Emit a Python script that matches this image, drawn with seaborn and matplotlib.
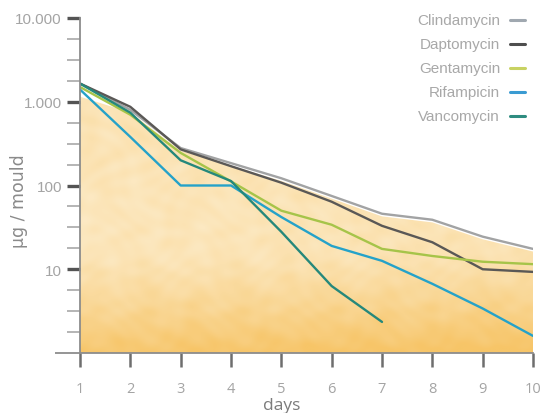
import numpy as np
import pandas as pd
import seaborn as sns
import matplotlib.pyplot as plt
from matplotlib.patches import Polygon
from matplotlib.lines import Line2D

# Antibiotic release from bone-cement moulds (µg per mould) over 10 days
days = [1, 2, 3, 4, 5, 6, 7, 8, 9, 10]
clindamycin = [1650, 800, 280, 185, 122, 75, 46, 39, 24.5, 17.5]
daptomycin = [1650, 870, 270, 170, 108, 64, 33, 21, 10, 9.3]
gentamycin = [1500, 700, 245, 112, 50, 34, 17.5, 14.4, 12.3, 11.5]
rifampicin = [1400, 380, 100, 100, 42, 19, 12.6, 6.7, 3.4, 1.6]
vancomycin_days = [1, 2, 3, 4, 5, 6, 7]
vancomycin = [1650, 740, 200, 113, 28, 6.3, 2.35]

drugs = ["Clindamycin", "Daptomycin", "Gentamycin", "Rifampicin", "Vancomycin"]
colors = ["#a2a3a4", "#5a5856", "#a6c449", "#25a2c9", "#25887b"]
legend_colors = ["#a0a8b0", "#4e4e4e", "#c8d262", "#3a9bd2", "#2e8c80"]

y_ticks = [10, 100, 1000, 10000]
y_ticklabels = ["10", "100", "1.000", "10.000"]

frames = []
for name, xs, ys in [("Clindamycin", days, clindamycin),
                     ("Daptomycin", days, daptomycin),
                     ("Gentamycin", days, gentamycin),
                     ("Rifampicin", days, rifampicin),
                     ("Vancomycin", vancomycin_days, vancomycin)]:
    frames.append(pd.DataFrame({"day": xs, "amount": ys, "drug": name}))
df = pd.concat(frames, ignore_index=True)

sns.set_theme(style="white")
plt.rcParams["font.family"] = ["Liberation Sans", "DejaVu Sans"]

W, H = 540, 414
fig = plt.figure(figsize=(W / 100, H / 100), dpi=100)
ax = fig.add_axes([80 / W, 60 / H, 453 / W, 335 / H])
ax.set_yscale("log")
ax.set_xlim(1, 10)
ax.set_ylim(1, 10000)

# warm cement-like texture under the curves: pale in the middle, orange at the base
n = 400
gx = np.linspace(0, 1, n)
gy = np.linspace(0, 1, n)          # 0 = top of axes, 1 = bottom
GX, GY = np.meshgrid(gx, gy)
pale = np.array([254, 246, 228]) / 255.0
deep = np.array([247, 197, 104]) / 255.0
mottle = (np.sin(GX * 47 + np.sin(GY * 29) * 2.3) * np.cos(GY * 41 + np.sin(GX * 13) * 1.7)
          + 0.7 * np.sin(GX * 89 + np.cos(GY * 23) * 3) * np.cos(GY * 67 + np.sin(GX * 31) * 2))
base = np.clip((GY - 0.70) / 0.30, 0, 1) ** 1.2
upper = np.clip((0.55 - GY) / 0.55, 0, 1)
t = np.clip(0.34 + 0.60 * base + 0.10 * upper + 0.10 * GX * GY + 0.05 * mottle, 0, 1)
img = pale[None, None, :] * (1 - t[..., None]) + deep[None, None, :] * t[..., None]
im = ax.imshow(img, extent=[0, 1, 0, 1], transform=ax.transAxes, aspect="auto",
               zorder=0, interpolation="bilinear")
fill_top = [1150] + [c * 0.93 for c in clindamycin[1:]]
verts = list(zip(days, fill_top)) + [(10, 1), (1, 1)]
poly = Polygon(verts, closed=True, transform=ax.transData,
               facecolor="none", edgecolor="none")
ax.add_patch(poly)
im.set_clip_path(poly)
ax.set_yscale("log")
ax.set_xlim(1, 10)
ax.set_ylim(1, 10000)

sns.lineplot(data=df, x="day", y="amount", hue="drug", hue_order=drugs,
             palette=colors, linewidth=1.7, ax=ax, legend=False, zorder=3)

# axes styling
for s in ["top", "right"]:
    ax.spines[s].set_visible(False)
for s in ["left", "bottom"]:
    ax.spines[s].set_color("#8c8c8c")
    ax.spines[s].set_linewidth(1.3)
    ax.spines[s].set_zorder(4)
ax.plot([-0.055, 0], [0, 0], transform=ax.transAxes, color="#8c8c8c",
        lw=1.3, clip_on=False, solid_capstyle="butt")

ax.set_yticks(y_ticks)
ax.set_yticklabels(y_ticklabels)
minor = [10 ** (k + f) for k in range(0, 4) for f in (0.25, 0.5, 0.75)]
ax.set_yticks(minor, minor=True)
ax.yaxis.set_minor_formatter(plt.NullFormatter())
ax.tick_params(axis="y", which="major", direction="out", length=9.5, width=2.4,
               color="#545454", labelsize=11, labelcolor="#a4a4a4", pad=3.5,
               left=True)
ax.tick_params(axis="y", which="minor", direction="out", length=9.5, width=1.1,
               color="#a0a0a0", left=True)
ax.set_xticks(days)
ax.set_xticklabels([str(d) for d in days])
ax.tick_params(axis="x", which="major", direction="out", length=10, width=1.8,
               color="#6e6e6e", labelsize=10.5, labelcolor="#a4a4a4", pad=10,
               bottom=True)
ax.tick_params(axis="x", which="minor", bottom=False)
for lbl in ax.get_xticklabels():
    lbl.set_fontfamily(["Open Sans", "DejaVu Sans"])

ax.set_xlabel("days", fontsize=12.5, color="#7c7c7c",
              fontfamily=["Open Sans", "DejaVu Sans"])
ax.xaxis.set_label_coords((282 - 80) / 453, (354 - 398) / 335)
ax.set_ylabel("µg / mould", fontsize=12.5, color="#8a8a8a",
              fontfamily=["DejaVu Sans"])
ax.yaxis.set_label_coords((28 - 80) / 453, (354 - 201) / 335)
ax.grid(False)

# legend: right-aligned names with a short swatch to their right
for i, (name, c) in enumerate(zip(drugs, legend_colors)):
    ypx = 21 + 24 * i
    fig.text(500 / W, 1 - ypx / H, name, ha="right", va="center",
             fontsize=11, color="#a8a8a8")
    fig.add_artist(Line2D([510 / W, 525 / W], [1 - ypx / H, 1 - ypx / H],
                          transform=fig.transFigure, color=c, lw=2.2))

fig.savefig("out.png", dpi=100)
